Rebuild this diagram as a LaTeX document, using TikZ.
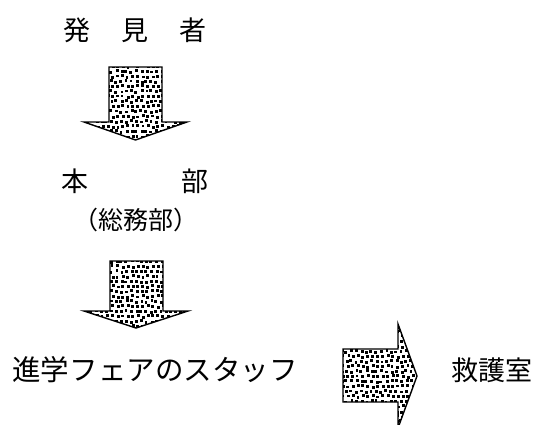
\documentclass[tikz,border=0pt]{standalone}
\usepackage{fontspec}
\newfontfamily\jpfont{Noto Sans CJK JP}
\tikzset{
  jptext/.style={font=\jpfont\fontsize{27}{27}\selectfont, inner sep=0pt},
  blockarrow/.style={draw=black, line width=1.4pt, line join=miter},
}
% stippled block arrow: path, then the grid to fill (x0,x1,y0,y1)
\newcommand{\stipplearrow}[5]{
  \begin{scope}
    \clip #1;
    \foreach \xx in {#2,...,#3}{
      \foreach \yy in {#4,...,#5}{
        \fill ({5*\xx+0.3*mod(\yy,2)*5+rand},{5*\yy+rand}) rectangle +(2.9,2.9);
      }
    }
  \end{scope}
  \draw[blockarrow] #1;
}
\begin{document}
\begin{tikzpicture}[x=1pt,y=-1pt]
  \useasboundingbox (0,0) rectangle (540,424);
  \pgfmathsetseed{7}
  % labels
  \node[jptext] (finder) at (135,30) {発\hspace{31pt}見\hspace{31pt}者};
  \node[jptext] (hq) at (135,181) {本\hspace{93pt}部};
  \node[jptext, font=\jpfont\fontsize{25}{25}\selectfont] (general) at (136,220) {（総務部）};
  \node[jptext, font=\jpfont\fontsize{28.5}{28.5}\selectfont] (staff) at (155,370) {進学フェアのスタッフ};
  \node[jptext] (firstaid) at (492,370) {救護室};
  % arrows
  \stipplearrow{(109,67) -- (162,67) -- (162,122) -- (187,122) -- (135.5,140) -- (84,122) -- (109,122) -- cycle}{16}{38}{13}{28}
  \stipplearrow{(110,261) -- (163,261) -- (163,311) -- (188,311) -- (136,328) -- (84,311) -- (110,311) -- cycle}{16}{38}{52}{66}
  \stipplearrow{(343,349) -- (398,349) -- (398,324) -- (417,376) -- (398,428) -- (398,402) -- (343,402) -- cycle}{68}{84}{64}{86}
\end{tikzpicture}
\end{document}
